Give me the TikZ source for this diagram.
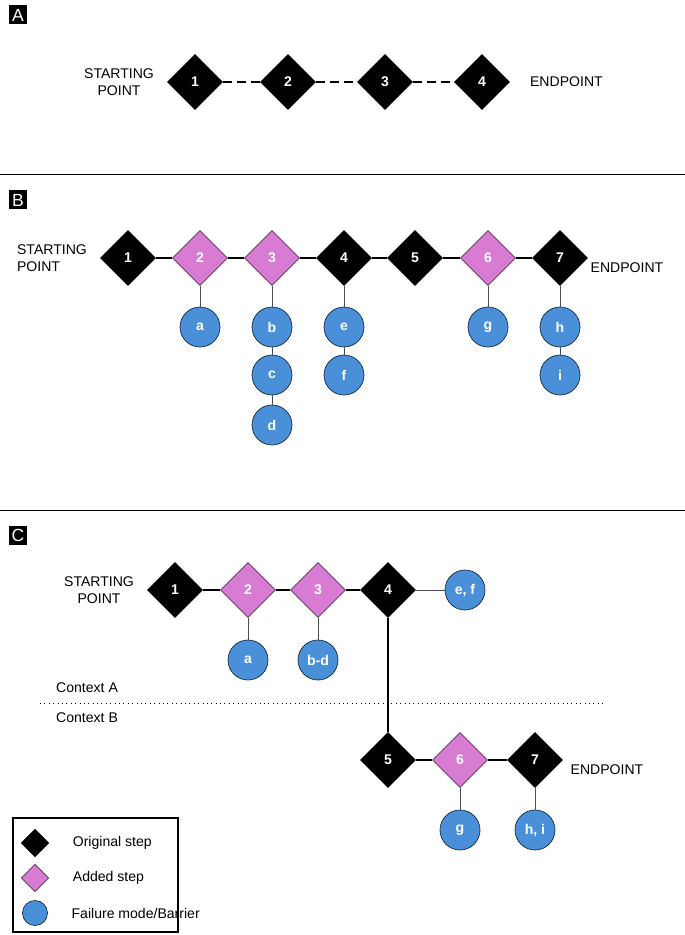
\documentclass[tikz,border=0pt]{standalone}
\usepackage{fontspec}
\setmainfont{Liberation Sans}
\usetikzlibrary{shapes.geometric,positioning}
\definecolor{addpink}{HTML}{D77BD3}
\definecolor{failblue}{HTML}{4A90D9}

\begin{document}
\begin{tikzpicture}[x=0.02cm, y=-0.02cm, font=\footnotesize,
		orig/.style={diamond, draw=black, fill=black, minimum size=1.1cm, inner sep=0pt, text=white, font=\footnotesize\bfseries},
		added/.style={orig, fill=addpink, draw=black!60!addpink},
		fail/.style={circle, draw=black!70!failblue, fill=failblue, minimum size=0.8cm, inner sep=0pt, text=white, font=\footnotesize\bfseries},
		link/.style={line width=1.6pt},
		stem/.style={draw=black!70, line width=0.5pt},
		panel/.style={fill=black, text=white, inner sep=1.5pt, minimum size=0.38cm, font=\normalsize},
	]
		\useasboundingbox (0,0) rectangle (685,935);
		
		% panel A
		\node[panel] (labA) at (18,15) {A};
		\foreach \i/\x in {1/195,2/288,3/385,4/482}
			\node[orig] (a\i) at (\x,82) {\i};
		\draw[link, dash pattern=on 5pt off 3pt] (a1) -- (a2) (a2) -- (a3) (a3) -- (a4);
		\node[align=center, left=4pt of a1] (startA) {STARTING\\POINT};
		\node[right=8pt of a4] (endA) {ENDPOINT};
		
		\draw[line width=0.4pt] (0,174) -- (685,174);
		
		% panel B
		\node[panel] (labB) at (18,200) {B};
		\foreach \i/\x/\s in {1/128/orig,2/200/added,3/272/added,4/344/orig,5/415/orig,6/488/added,7/560/orig}
			\node[\s] (b\i) at (\x,258) {\i};
		\draw[link] (b1) -- (b2) -- (b3) -- (b4) -- (b5) -- (b6) -- (b7);
		\foreach \n/\x/\y in {a/200/327,b/272/327,c/272/375,d/272/425,e/344/327,f/344/375,g/488/327,h/560/327,i/560/375}
			\node[fail] (f\n) at (\x,\y) {\n};
		\draw[stem] (b2) -- (fa) (b3) -- (fb) -- (fc) -- (fd) (b4) -- (fe) -- (ff) (b6) -- (fg) (b7) -- (fh) -- (fi);
		\node[align=left] (startB) at (52,258) {STARTING\\POINT};
		\node (endB) at (627,268) {ENDPOINT};
		
		\draw[line width=0.4pt] (0,510) -- (685,510);
		
		% panel C
		\node[panel] (labC) at (18,535) {C};
		\foreach \i/\x/\y/\s in {1/175/590/orig,2/248/590/added,3/318/590/added,4/388/590/orig,5/388/760/orig,6/460/760/added,7/535/760/orig}
			\node[\s] (c\i) at (\x,\y) {\i};
		\draw[link] (c1) -- (c2) -- (c3) -- (c4) -- (c5) -- (c6) -- (c7);
		\node[fail] (gef) at (465,590) {e, f};
		\node[fail] (ga) at (248,660) {a};
		\node[fail] (gbd) at (318,660) {b-d};
		\node[fail] (gg) at (460,830) {g};
		\node[fail] (ghi) at (535,830) {h, i};
		\draw[stem] (c4) -- (gef) (c2) -- (ga) (c3) -- (gbd) (c6) -- (gg) (c7) -- (ghi);
		\node[align=center, left=4pt of c1] (startC) {STARTING\\POINT};
		\node (endC) at (607,770) {ENDPOINT};
		\node[anchor=west] (ctxA) at (50,688) {Context A};
		\node[anchor=west] (ctxB) at (50,718) {Context B};
		\coordinate (sepL) at (40,703);
		\coordinate (sepR) at (605,703);
		\draw[dotted, line width=0.5pt] (sepL) -- (sepR);
		
		% legend
		\draw[line width=1.5pt] (13,818) rectangle (178,932);
		\node[orig, minimum size=0.55cm] (keyO) at (35,843) {};
		\node[added, minimum size=0.55cm] (keyA) at (35,878) {};
		\node[fail, minimum size=0.5cm] (keyF) at (35,913) {};
		\node[right=10pt of keyO] {Original step};
		\node[right=10pt of keyA] {Added step};
		\node[right=10pt of keyF] {Failure mode/Barrier};
	\end{tikzpicture}
\end{document}
